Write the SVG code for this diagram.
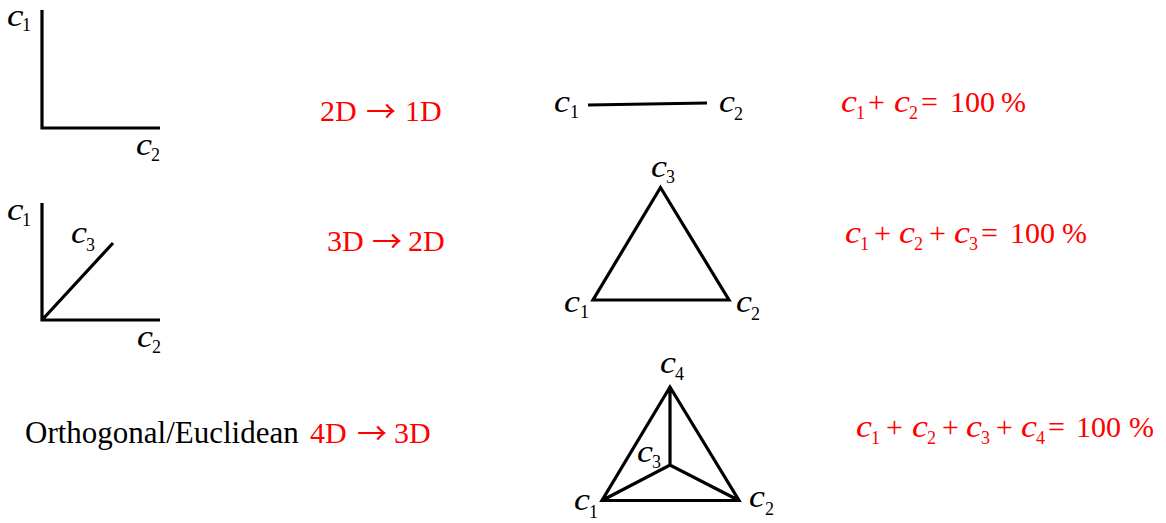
<svg xmlns="http://www.w3.org/2000/svg" width="1166" height="523" viewBox="0 0 1166 523">
<style>
text{font-family:"Liberation Serif","Times New Roman",serif;font-size:30px;}
.v{font-style:italic;font-size:31px;}
.s{font-size:18px;}
.red{fill:#ff0000;}
.arr{font-family:"Noto Sans CJK SC","DejaVu Sans",sans-serif;font-size:30px;}
.ln{stroke:#000;stroke-width:3.2;fill:none;stroke-linejoin:miter;}
</style>
<rect width="1166" height="523" fill="#fff"/>
<g id="connectors">
<path class="ln" d="M42,10 V128 H160"/>
<path class="ln" d="M42,203 V320 H160 M42,320 L113,243"/>
<path class="ln" d="M588,105 L707,103"/>
<path class="ln" d="M660.5,187.5 L593,300 H729 Z"/>
<path class="ln" d="M670,387 L602,500.5 H739 Z M670,387 V465 M602,500.5 L670,465 L739,500.5"/>
</g>
<g id="axes2d">
<text><tspan class="v" x="7" y="26" textLength="16.5" lengthAdjust="spacingAndGlyphs">c</tspan><tspan class="s" x="22" y="31">1</tspan></text>
<text><tspan class="v" x="136" y="155" textLength="16" lengthAdjust="spacingAndGlyphs">c</tspan><tspan class="s" x="151" y="161">2</tspan></text>
</g>
<g id="axes3d">
<text><tspan class="v" x="7" y="220" textLength="16.5" lengthAdjust="spacingAndGlyphs">c</tspan><tspan class="s" x="22" y="226">1</tspan></text>
<text><tspan class="v" x="71" y="243" textLength="16" lengthAdjust="spacingAndGlyphs">c</tspan><tspan class="s" x="86" y="251">3</tspan></text>
<text><tspan class="v" x="137" y="347" textLength="16" lengthAdjust="spacingAndGlyphs">c</tspan><tspan class="s" x="152" y="353">2</tspan></text>
</g>
<g id="labels">
<text class="red" x="320" y="121">2D</text>
<text class="red arr" x="366" y="122">→</text>
<text class="red" x="405" y="121">1D</text>
<text class="red" x="327" y="251">3D</text>
<text class="red arr" x="372" y="252">→</text>
<text class="red" x="408" y="251">2D</text>
<text x="25" y="443" style="font-size:31px">Orthogonal/Euclidean</text>
<text class="red" x="310" y="443">4D</text>
<text class="red arr" x="357" y="444">→</text>
<text class="red" x="394" y="443">3D</text>
</g>
<g id="simplex1">
<text><tspan class="v" x="554" y="112" textLength="16" lengthAdjust="spacingAndGlyphs">c</tspan><tspan class="s" x="570" y="118">1</tspan></text>
<text><tspan class="v" x="719" y="112" textLength="16" lengthAdjust="spacingAndGlyphs">c</tspan><tspan class="s" x="734" y="120">2</tspan></text>
</g>
<g id="simplex2">
<text><tspan class="v" x="651" y="177" textLength="16" lengthAdjust="spacingAndGlyphs">c</tspan><tspan class="s" x="666" y="183">3</tspan></text>
<text><tspan class="v" x="564" y="312" textLength="16" lengthAdjust="spacingAndGlyphs">c</tspan><tspan class="s" x="580" y="318">1</tspan></text>
<text><tspan class="v" x="736" y="312" textLength="16" lengthAdjust="spacingAndGlyphs">c</tspan><tspan class="s" x="751" y="320">2</tspan></text>
</g>
<g id="simplex3">
<text><tspan class="v" x="660" y="373" textLength="16" lengthAdjust="spacingAndGlyphs">c</tspan><tspan class="s" x="675" y="380">4</tspan></text>
<text><tspan class="v" x="637" y="462" textLength="16" lengthAdjust="spacingAndGlyphs">c</tspan><tspan class="s" x="652" y="468">3</tspan></text>
<text><tspan class="v" x="574" y="510" textLength="16" lengthAdjust="spacingAndGlyphs">c</tspan><tspan class="s" x="589" y="518">1</tspan></text>
<text><tspan class="v" x="749" y="507" textLength="16" lengthAdjust="spacingAndGlyphs">c</tspan><tspan class="s" x="765" y="515">2</tspan></text>
</g>
<g id="equations">
<text class="red"><tspan class="v" x="841" y="112" textLength="16" lengthAdjust="spacingAndGlyphs">c</tspan><tspan class="s" x="856" y="119">1</tspan><tspan x="868" y="112">+</tspan><tspan class="v" x="894" y="112" textLength="16" lengthAdjust="spacingAndGlyphs">c</tspan><tspan class="s" x="909" y="119">2</tspan><tspan x="921" y="112">=</tspan><tspan x="950" y="112">100</tspan><tspan x="1001" y="112">%</tspan></text>
<text class="red"><tspan class="v" x="845" y="243" textLength="16" lengthAdjust="spacingAndGlyphs">c</tspan><tspan class="s" x="860" y="250">1</tspan><tspan x="874" y="243">+</tspan><tspan class="v" x="899" y="243" textLength="16" lengthAdjust="spacingAndGlyphs">c</tspan><tspan class="s" x="914" y="250">2</tspan><tspan x="929" y="243">+</tspan><tspan class="v" x="954" y="243" textLength="16" lengthAdjust="spacingAndGlyphs">c</tspan><tspan class="s" x="969" y="250">3</tspan><tspan x="981" y="243">=</tspan><tspan x="1010" y="243">100</tspan><tspan x="1062" y="243">%</tspan></text>
<text class="red"><tspan class="v" x="856" y="437" textLength="16" lengthAdjust="spacingAndGlyphs">c</tspan><tspan class="s" x="871" y="444">1</tspan><tspan x="886" y="437">+</tspan><tspan class="v" x="912" y="437" textLength="16" lengthAdjust="spacingAndGlyphs">c</tspan><tspan class="s" x="927" y="444">2</tspan><tspan x="942" y="437">+</tspan><tspan class="v" x="966" y="437" textLength="16" lengthAdjust="spacingAndGlyphs">c</tspan><tspan class="s" x="981" y="444">3</tspan><tspan x="996" y="437">+</tspan><tspan class="v" x="1021" y="437" textLength="16" lengthAdjust="spacingAndGlyphs">c</tspan><tspan class="s" x="1036" y="444">4</tspan><tspan x="1048" y="437">=</tspan><tspan x="1076" y="437">100</tspan><tspan x="1129" y="437">%</tspan></text>
</g>
</svg>
